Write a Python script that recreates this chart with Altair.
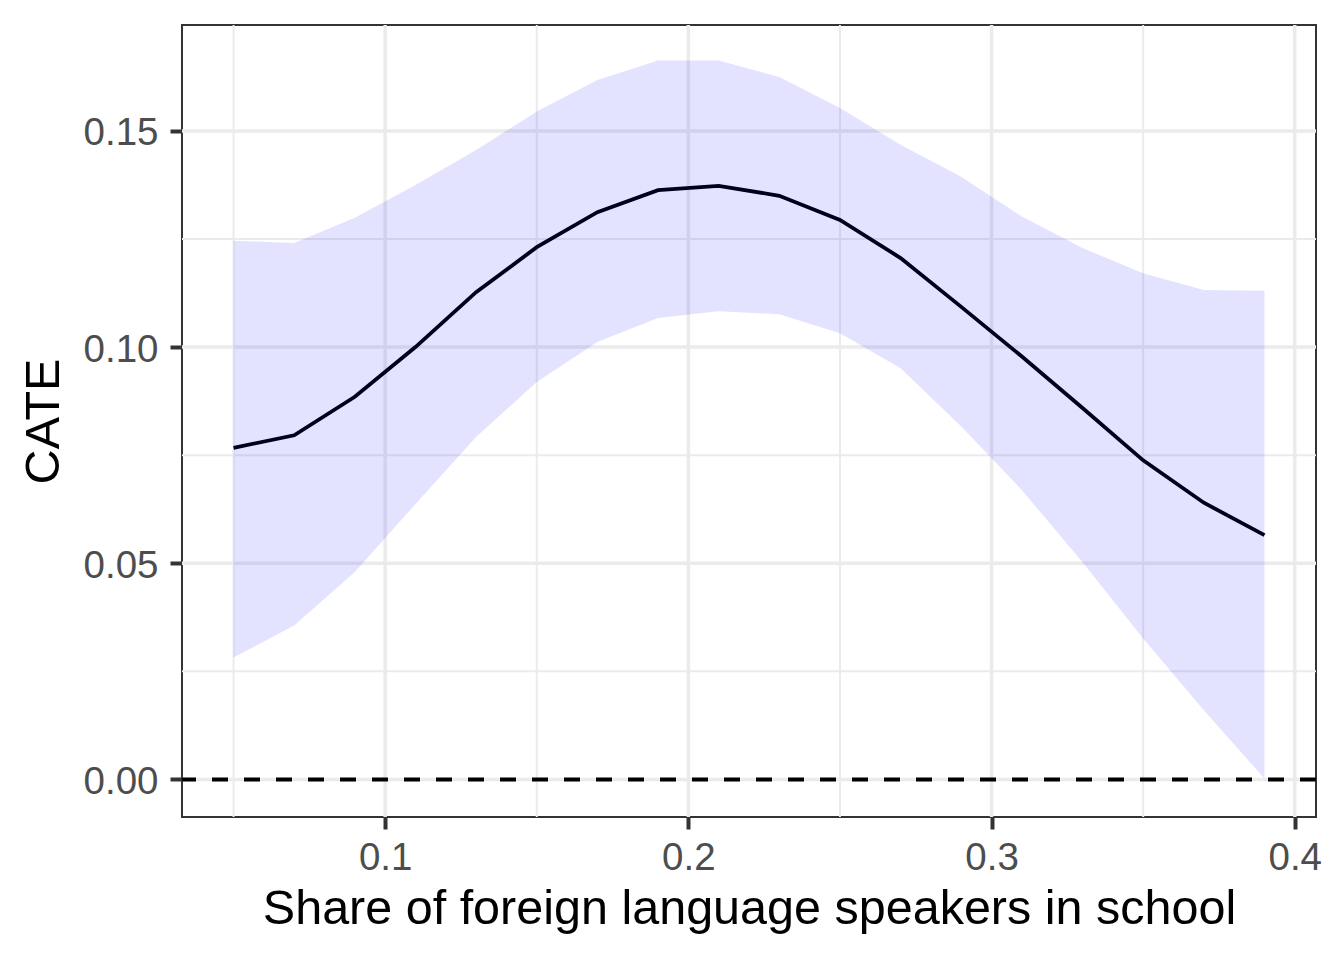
import altair as alt
import pandas as pd

# Data
x_vals = [0.05, 0.07, 0.09, 0.11, 0.13, 0.15, 0.17, 0.19, 0.21, 0.23,
          0.25, 0.27, 0.29, 0.31, 0.33, 0.35, 0.37, 0.39]
cate = [0.0767, 0.0796, 0.0885, 0.1000, 0.1127, 0.1231, 0.1312, 0.1363, 0.1373, 0.1350,
        0.1294, 0.1206, 0.1093, 0.0978, 0.0859, 0.0738, 0.0640, 0.0565]
upper = [0.1246, 0.1241, 0.1299, 0.1375, 0.1456, 0.1545, 0.1618, 0.1663, 0.1663, 0.1625,
         0.1553, 0.1468, 0.1394, 0.1302, 0.1229, 0.1171, 0.1132, 0.1130]
lower = [0.0282, 0.0356, 0.0480, 0.0637, 0.0792, 0.0919, 0.1012, 0.1067, 0.1083, 0.1076,
         0.1032, 0.0951, 0.0816, 0.0669, 0.0502, 0.0326, 0.0160, 0.0002]

x_major = [0.1, 0.2, 0.3, 0.4]
x_minor = [0.05, 0.15, 0.25, 0.35]
y_major = [0.0, 0.05, 0.10, 0.15]
y_minor = [0.025, 0.075, 0.125]
zero_line = [0.0]

x_title = "Share of foreign language speakers in school"
y_title = "CATE"

df = pd.DataFrame({"x": x_vals, "cate": cate, "lo": lower, "hi": upper})
FONT = "Liberation Sans"

x_scale = alt.Scale(domain=[0.033, 0.407], nice=False, zero=False)
y_scale = alt.Scale(domain=[-0.0087, 0.1745], nice=False, zero=False)

x_axis = alt.Axis(values=x_major, format=".1f", title=x_title, grid=False, domain=False,
                  tickSize=12, tickWidth=4, tickColor="#333333", labelPadding=10,
                  labelFont=FONT, labelFontSize=38.5, labelColor="#4d4d4d",
                  titleFont=FONT, titleFontSize=48.5, titleColor="black",
                  titleFontWeight="normal", titleBaseline="alphabetic", titleY=106)
y_axis = alt.Axis(values=y_major, format=".2f", title=y_title, grid=False, domain=False,
                  tickSize=12, tickWidth=4, tickColor="#333333", labelPadding=12,
                  labelOffset=2,
                  labelFont=FONT, labelFontSize=38.5, labelColor="#4d4d4d",
                  titleFont=FONT, titleFontSize=48.5, titleColor="black",
                  titleFontWeight="normal", titleBaseline="alphabetic", titleX=-124)

X = lambda f: alt.X(f, type="quantitative", scale=x_scale, axis=x_axis)
Y = lambda f: alt.Y(f, type="quantitative", scale=y_scale, axis=y_axis)

gx_minor = alt.Chart(pd.DataFrame({"x": x_minor})).mark_rule(
    color="#ebebeb", strokeWidth=2).encode(x=X("x"))
gy_minor = alt.Chart(pd.DataFrame({"cate": y_minor})).mark_rule(
    color="#ebebeb", strokeWidth=2).encode(y=Y("cate"))
gx_major = alt.Chart(pd.DataFrame({"x": x_major})).mark_rule(
    color="#ebebeb", strokeWidth=3.5).encode(x=X("x"))
gy_major = alt.Chart(pd.DataFrame({"cate": y_major})).mark_rule(
    color="#ebebeb", strokeWidth=3.5).encode(y=Y("cate"))

line = alt.Chart(df).mark_line(color="black", strokeWidth=3.8).encode(
    x=X("x"), y=Y("cate"))
band = alt.Chart(df).mark_area(color="blue", opacity=0.11).encode(
    x=X("x"), y=Y("lo"), y2="hi")
zero = alt.Chart(pd.DataFrame({"cate": zero_line})).mark_rule(
    color="black", strokeWidth=4, strokeDash=[16, 16]).encode(y=Y("cate"))

chart = alt.layer(gx_minor, gy_minor, gx_major, gy_major, line, band, zero).properties(
    width=1134, height=792,
    autosize=alt.AutoSizeParams(type="none"),
    padding={"left": 174, "top": 17, "right": 12, "bottom": 120},
    background="white",
).configure_view(stroke="#333333", strokeWidth=2)

chart.save("out.html", embed_options={"renderer": "svg", "actions": False})
